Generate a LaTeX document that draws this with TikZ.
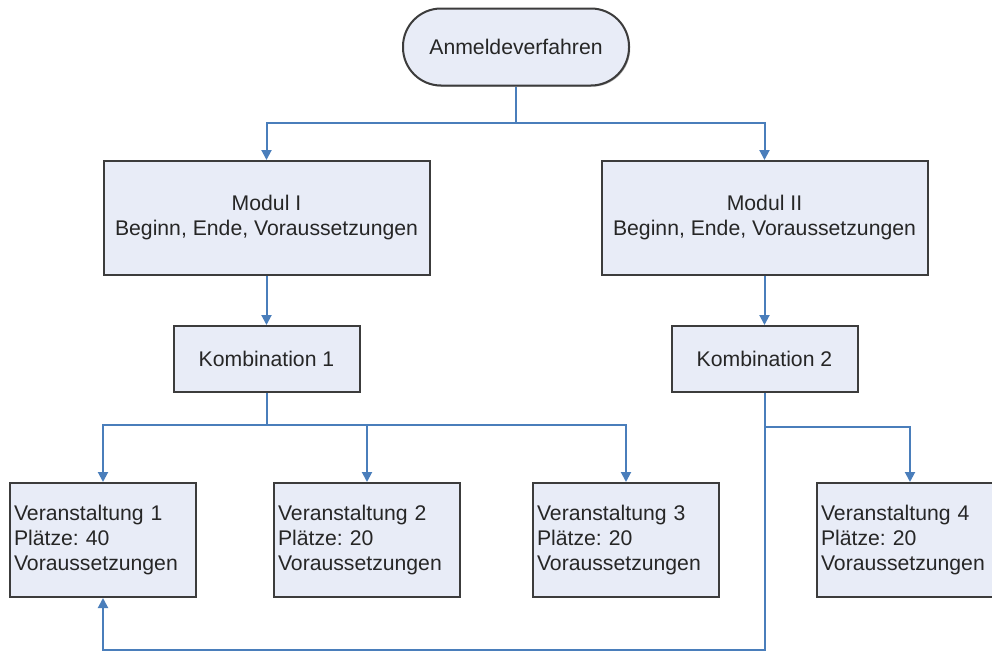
\documentclass[tikz,border=0pt]{standalone}
\usepackage{fontspec}
\setmainfont{Liberation Sans}
\usetikzlibrary{arrows.meta,positioning,shadows}
\definecolor{flowblue}{RGB}{74,126,187}
\definecolor{boxfill}{RGB}{232,236,247}
\definecolor{boxline}{RGB}{60,60,60}
\tikzset{every picture/.style={
  >={Triangle[width=5pt,length=5pt]}   % Filled arrow tips.
  }
}

\begin{document}
\frenchspacing
\begin{tikzpicture}[
    x=0.5pt, y=-0.5pt,
    font=\fontsize{10.6}{12.5}\selectfont,
    box/.style={
      draw=boxline,
      line width=1pt,
      fill=boxfill,
      text=black!85,
      general shadow={fill=black!30,shadow xshift=0.6pt,shadow yshift=-0.6pt}
    },
    modbox/.style={box,minimum width=163pt,minimum height=57pt,align=center},
    kombox/.style={box,minimum width=93pt,minimum height=33pt},
    veranst/.style={box,text width=89pt,inner xsep=2pt,minimum height=57pt,
      align=left},
    link/.style={draw=flowblue,line width=1pt}]

    \useasboundingbox (0,0) rectangle (992,653);

    % The start of the procedure.
    \node[box,minimum width=113pt,minimum height=38.5pt,rounded corners=19pt]
      (anm) at (516,47) {Anmeldeverfahren};

    % The two modules and their combinations.
    \node[modbox] (mod1) at (266.5,218) {Modul I\\Beginn, Ende, Voraussetzungen};
    \node[modbox] (mod2) at (764.5,218) {Modul II\\Beginn, Ende, Voraussetzungen};
    \node[kombox,below=24.5pt of mod1] (komb1) {Kombination 1};
    \node[kombox,below=24.5pt of mod2] (komb2) {Kombination 2};

    % The courses.
    \node[veranst] (v1) at (103,540) {Veranstaltung 1\\Plätze: 40\\Voraussetzungen};
    \node[veranst] (v2) at (367,540) {Veranstaltung 2\\Plätze: 20\\Voraussetzungen};
    \node[veranst] (v3) at (626,540) {Veranstaltung 3\\Plätze: 20\\Voraussetzungen};
    \node[veranst] (v4) at (910,540) {Veranstaltung 4\\Plätze: 20\\Voraussetzungen};

    % Branch points of the connectors.
    \coordinate (bar) at (516,123);
    \coordinate (k1bar) at (266.5,425);
    \coordinate (k2bar) at (764.5,427);
    \coordinate (back) at (764.5,650);

    % Start to modules.
    \draw[link] (anm) -- (bar);
    \draw[link,->] (bar) -| (mod1);
    \draw[link,->] (bar) -| (mod2);

    % Modules to combinations.
    \draw[link,->] (mod1) -- (komb1);
    \draw[link,->] (mod2) -- (komb2);

    % Combination 1 to its courses.
    \draw[link] (komb1) -- (k1bar);
    \foreach \v in {v1,v2,v3}
      \draw[link,->] (k1bar) -| (\v);

    % Combination 2 to course 4 and back round to course 1.
    \draw[link,->] (komb2) -- (k2bar) -| (v4);
    \draw[link,->] (k2bar) -- (back) -| (v1);
  \end{tikzpicture}
\end{document}
